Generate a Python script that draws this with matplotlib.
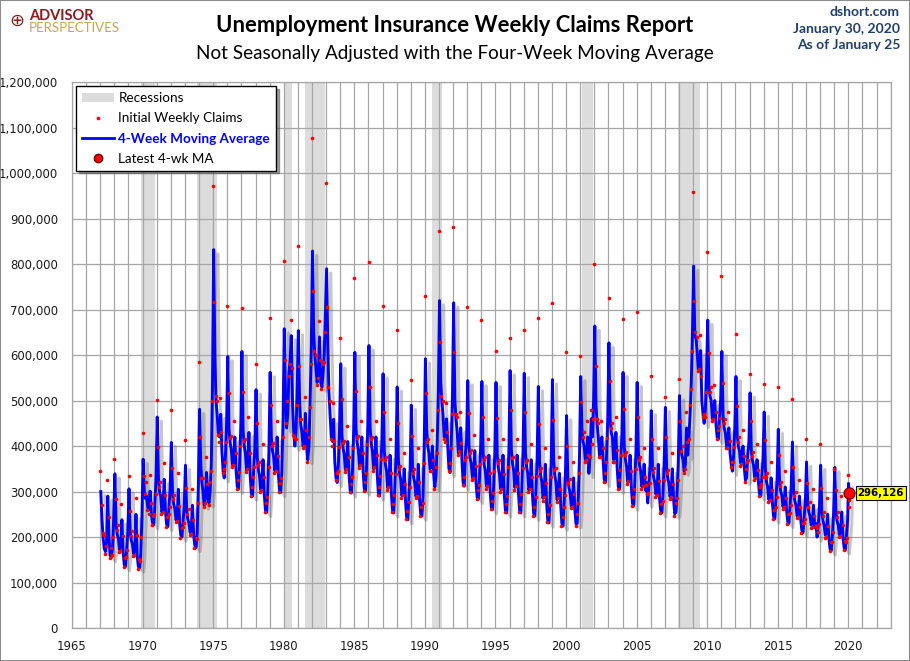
import matplotlib
matplotlib.use("Agg")
import matplotlib.pyplot as plt
import matplotlib.patheffects as pe
from matplotlib.lines import Line2D
from matplotlib.patches import Patch, Rectangle
import numpy as np
import pandas as pd

# 4-week moving average, read at mid-month (thousands), one row per year Jan..Dec
ma_1960s = [
    [300, 240, 200, 175, 168, 190, 290, 200, 160, 155, 175, 240],  # 1967
    [339, 227, 206, 196, 172, 180, 238, 166, 139, 135, 172, 212],
    [306, 210, 193, 184, 163, 170, 250, 158, 135, 132, 163, 240],
]
ma_1970s = [
    [371, 300, 285, 290, 265, 260, 301, 250, 232, 227, 265, 335],  # 1970
    [464, 330, 300, 290, 255, 265, 327, 259, 228, 223, 266, 306],
    [408, 294, 273, 262, 237, 246, 305, 231, 204, 200, 237, 271],
    [358, 258, 240, 231, 210, 217, 270, 204, 181, 177, 210, 314],
    [481, 360, 320, 300, 270, 285, 342, 290, 275, 300, 360, 540],
    [832, 600, 500, 470, 430, 420, 470, 390, 345, 330, 380, 450],
    [597, 436, 407, 393, 358, 369, 420, 349, 311, 305, 358, 441],
    [608, 433, 401, 385, 347, 360, 430, 338, 296, 290, 347, 395],
    [524, 376, 349, 335, 303, 313, 370, 295, 259, 254, 303, 393],
    [562, 417, 390, 377, 346, 356, 420, 338, 303, 298, 345, 460],
]
ma_1980s = [
    [658, 520, 440, 470, 560, 590, 643, 500, 430, 400, 430, 530],  # 1980
    [654, 500, 450, 430, 400, 410, 472, 400, 370, 400, 500, 620],
    [829, 650, 600, 570, 540, 560, 640, 540, 530, 560, 600, 690],
    [790, 620, 520, 470, 420, 410, 459, 365, 330, 320, 360, 437],
    [581, 425, 396, 382, 348, 359, 410, 340, 303, 297, 348, 436],
    [606, 438, 408, 392, 356, 368, 420, 347, 307, 301, 356, 445],
    [621, 439, 406, 389, 350, 363, 420, 340, 297, 290, 350, 411],
    [559, 391, 360, 345, 308, 320, 380, 299, 259, 253, 308, 378],
    [530, 369, 340, 326, 291, 302, 350, 282, 244, 238, 291, 351],
    [490, 356, 331, 319, 290, 300, 360, 283, 251, 246, 290, 402],
]
ma_1990s = [
    [592, 440, 400, 385, 350, 355, 400, 340, 310, 335, 400, 520],  # 1990
    [720, 540, 500, 470, 420, 420, 460, 400, 350, 342, 410, 510],
    [715, 500, 460, 433, 385, 400, 440, 372, 320, 312, 385, 416],
    [544, 400, 374, 361, 330, 340, 390, 322, 288, 283, 330, 400],
    [542, 387, 359, 345, 311, 322, 380, 302, 266, 260, 311, 386],
    [540, 382, 353, 339, 305, 316, 380, 296, 259, 253, 305, 394],
    [566, 394, 363, 347, 309, 322, 380, 300, 259, 253, 309, 391],
    [560, 387, 356, 340, 303, 315, 370, 293, 252, 246, 303, 374],
    [531, 366, 336, 321, 285, 297, 360, 276, 237, 231, 285, 373],
    [546, 369, 337, 321, 282, 295, 340, 272, 230, 224, 282, 333],
]
ma_2000s = [
    [467, 333, 309, 297, 268, 277, 330, 260, 229, 230, 290, 380],  # 2000
    [553, 440, 410, 400, 370, 380, 420, 340, 380, 460, 420, 500],
    [664, 490, 450, 420, 380, 385, 420, 372, 327, 320, 380, 458],
    [627, 460, 430, 420, 370, 375, 430, 353, 311, 305, 363, 421],
    [562, 400, 371, 356, 321, 333, 380, 312, 274, 268, 321, 390],
    [540, 387, 359, 345, 311, 322, 360, 303, 320, 275, 311, 359],
    [478, 354, 332, 321, 294, 303, 360, 287, 258, 253, 294, 365],
    [485, 354, 330, 318, 289, 299, 350, 282, 251, 255, 300, 365],
    [511, 400, 380, 370, 345, 360, 440, 380, 420, 470, 540, 650],
    [796, 640, 640, 610, 570, 580, 610, 500, 470, 450, 480, 560],
]
ma_2010s = [
    [677, 530, 510, 500, 460, 470, 500, 450, 420, 415, 460, 502],  # 2010
    [608, 470, 440, 430, 400, 405, 440, 385, 360, 345, 380, 439],
    [553, 425, 400, 390, 362, 371, 400, 355, 325, 330, 380, 410],
    [517, 392, 369, 358, 331, 340, 370, 324, 295, 290, 331, 373],
    [475, 350, 322, 310, 282, 292, 330, 275, 245, 240, 282, 329],
    [437, 323, 302, 292, 267, 276, 310, 261, 234, 230, 267, 311],
    [409, 300, 280, 270, 246, 254, 290, 240, 214, 210, 246, 280],
    [365, 272, 255, 246, 226, 232, 270, 221, 230, 200, 226, 268],
    [358, 255, 236, 226, 204, 211, 250, 198, 174, 170, 204, 252],
    [353, 253, 235, 226, 205, 212, 255, 199, 176, 172, 205, 238],
]

# initial claims, first week of each month (thousands)
claims_1960s = [
    [345, 270, 210, 205, 163, 180, 325, 245, 155, 175, 160, 200],
    [372, 283, 216, 226, 167, 170, 273, 202, 134, 155, 157, 172],
    [334, 258, 203, 214, 158, 160, 285, 204, 130, 152, 148, 200],
]
claims_1970s = [
    [428, 335, 295, 320, 260, 250, 336, 275, 227, 247, 250, 295],
    [502, 397, 310, 320, 250, 255, 362, 293, 223, 243, 251, 266],
    [479, 351, 283, 292, 232, 236, 340, 268, 199, 220, 222, 231],
    [413, 308, 250, 261, 205, 207, 305, 237, 176, 197, 195, 274],
    [586, 420, 330, 330, 265, 275, 377, 316, 270, 320, 345, 500],
    [971, 716, 510, 500, 425, 410, 505, 430, 340, 350, 365, 410],
    [709, 517, 417, 423, 353, 359, 455, 385, 306, 325, 343, 401],
    [704, 520, 411, 415, 342, 350, 465, 384, 291, 310, 332, 355],
    [581, 450, 359, 365, 298, 303, 405, 333, 254, 274, 288, 353],
    [682, 490, 400, 407, 341, 346, 455, 379, 298, 318, 330, 420],
]
claims_1980s = [
    [806, 589, 450, 500, 555, 580, 678, 572, 425, 420, 415, 490],
    [841, 577, 460, 460, 395, 400, 507, 436, 365, 420, 485, 580],
    [1077, 740, 610, 600, 535, 550, 675, 590, 525, 580, 585, 650],
    [978, 705, 530, 500, 415, 400, 494, 412, 325, 340, 345, 397],
    [637, 503, 406, 412, 343, 349, 445, 375, 298, 317, 333, 396],
    [770, 522, 418, 422, 351, 358, 455, 384, 302, 321, 341, 405],
    [805, 530, 416, 419, 345, 353, 455, 380, 292, 310, 335, 371],
    [709, 475, 370, 375, 303, 310, 415, 340, 254, 273, 293, 338],
    [656, 450, 350, 356, 286, 292, 385, 316, 239, 258, 276, 311],
    [545, 423, 341, 349, 285, 290, 395, 322, 246, 266, 275, 362],
]
claims_1990s = [
    [731, 516, 410, 415, 345, 345, 435, 370, 305, 355, 385, 480],
    [874, 630, 510, 500, 415, 410, 495, 430, 345, 362, 395, 470],
    [882, 608, 470, 463, 380, 390, 475, 406, 315, 332, 370, 376],
    [706, 472, 384, 391, 325, 330, 425, 356, 283, 303, 315, 360],
    [678, 465, 369, 375, 306, 312, 415, 341, 261, 280, 296, 346],
    [610, 461, 363, 369, 300, 306, 415, 338, 254, 273, 290, 354],
    [637, 480, 373, 377, 304, 312, 415, 340, 254, 273, 294, 351],
    [656, 474, 366, 370, 298, 305, 405, 332, 247, 266, 288, 334],
    [682, 449, 346, 351, 280, 287, 395, 318, 232, 251, 270, 333],
    [715, 458, 347, 351, 277, 285, 375, 306, 225, 244, 267, 293],
]
claims_2000s = [
    [606, 400, 319, 327, 263, 267, 365, 295, 224, 250, 275, 340],
    [599, 497, 420, 430, 365, 370, 455, 380, 375, 480, 405, 460],
    [801, 577, 460, 450, 375, 375, 455, 396, 322, 340, 365, 418],
    [726, 544, 440, 450, 365, 365, 465, 392, 306, 325, 348, 381],
    [680, 481, 381, 386, 316, 323, 415, 346, 269, 288, 306, 350],
    [695, 464, 369, 375, 306, 312, 395, 332, 315, 295, 296, 319],
    [555, 416, 342, 351, 289, 293, 395, 324, 253, 273, 279, 325],
    [507, 420, 340, 348, 284, 289, 385, 316, 246, 275, 285, 325],
    [548, 456, 390, 400, 340, 350, 475, 410, 415, 490, 525, 610],
    [958, 718, 650, 640, 565, 570, 645, 555, 465, 470, 465, 520],
]
claims_2010s = [
    [827, 604, 520, 530, 455, 460, 535, 475, 415, 435, 445, 462],
    [774, 539, 450, 460, 395, 395, 475, 412, 355, 365, 365, 399],
    [647, 489, 410, 420, 357, 361, 435, 378, 320, 350, 365, 370],
    [559, 455, 379, 388, 326, 330, 405, 347, 290, 310, 316, 333],
    [537, 413, 332, 340, 277, 282, 365, 303, 240, 260, 267, 289],
    [529, 380, 312, 322, 262, 266, 345, 286, 229, 250, 252, 271],
    [503, 355, 290, 300, 241, 244, 325, 265, 209, 230, 231, 240],
    [415, 319, 265, 276, 221, 222, 305, 246, 225, 220, 211, 228],
    [404, 307, 246, 256, 199, 201, 285, 224, 169, 190, 189, 212],
    [350, 303, 245, 256, 200, 202, 290, 227, 171, 192, 190, 198],
]

# January 2020 weekly readings
weeks_2020 = ["2020-01-04", "2020-01-11", "2020-01-18", "2020-01-25"]
ma_2020 = [318, 312, 300, 296.126]
claims_2020 = [336, 302, 265, 281]

latest_ma = 296126

recessions = [
    ("1969-12-01", "1970-11-30"),
    ("1973-11-01", "1975-03-31"),
    ("1980-01-01", "1980-07-31"),
    ("1981-07-01", "1982-11-30"),
    ("1990-07-01", "1991-03-31"),
    ("2001-03-01", "2001-11-30"),
    ("2007-12-01", "2009-06-30"),
]


def to_year(dates):
    d = pd.DatetimeIndex(pd.to_datetime(dates))
    return np.asarray(d.year + (d.dayofyear - 1) / 365.25)


ma_rows = ma_1960s + ma_1970s + ma_1980s + ma_1990s + ma_2000s + ma_2010s
claim_rows = claims_1960s + claims_1970s + claims_1980s + claims_1990s + claims_2000s + claims_2010s

month_starts = pd.date_range("1967-01-01", "2019-12-01", freq="MS")
ma_x = np.concatenate([to_year(month_starts + pd.Timedelta(days=14)), to_year(weeks_2020)])
ma_y = np.concatenate([np.concatenate(ma_rows), ma_2020]) * 1000
cl_x = np.concatenate([to_year(month_starts + pd.Timedelta(days=3)), to_year(weeks_2020)])
cl_y = np.concatenate([np.concatenate(claim_rows), claims_2020]) * 1000

fig = plt.figure(figsize=(9.1, 6.61), dpi=100)
W, H = 910, 661
ax = fig.add_axes([72 / W, 1 - 628 / H, (890.7 - 72) / W, (628 - 82.3) / H])

for start, end in recessions:
    s, e = to_year([start, end])
    ax.axvspan(s, e, color="#dcdcdc", lw=0, zorder=0.2)

ax.plot(ma_x, ma_y, color="#0000ff", lw=2.1, zorder=3,
        path_effects=[pe.SimpleLineShadow(offset=(3, -3), shadow_color="#606060", alpha=0.35),
                      pe.Normal()])
ax.plot(cl_x, cl_y, ls="none", marker="o", ms=2.6, color="#ff0000", mew=0, zorder=4)

lx = ma_x[-1]
ax.plot([lx], [latest_ma], ls="none", marker="o", ms=8, mfc="#ff0000", mec="#700000", mew=0.8, zorder=5)
ax.annotate(f"{latest_ma:,}", xy=(lx, latest_ma), xytext=(6, 0), textcoords="offset points",
            va="center", ha="left", fontsize=7.4, fontweight="bold", family="DejaVu Sans",
            bbox=dict(boxstyle="square,pad=0.18", fc="#ffff00", ec="black", lw=0.8), zorder=6,
            annotation_clip=False)

ax.set_xlim(1965, 2023)
ax.set_ylim(0, 1_200_000)
ax.set_xticks(range(1965, 2021, 5))
ax.set_xticks(range(1965, 2024), minor=True)
ax.set_yticks(range(0, 1_200_001, 100_000))
ax.yaxis.set_major_formatter(matplotlib.ticker.FuncFormatter(lambda v, _: f"{v:,.0f}"))
ax.grid(True, which="both", axis="x", color="#a6a6a6", lw=0.9)
ax.grid(True, which="major", axis="y", color="#a6a6a6", lw=0.9)
ax.set_axisbelow(True)
ax.tick_params(which="both", length=0, labelsize=8.4, colors="#1a1a1a")
ax.tick_params(axis="x", pad=9)
ax.tick_params(axis="y", pad=10)
for sp in ax.spines.values():
    sp.set_color("#a6a6a6")
    sp.set_linewidth(0.9)

handles = [
    Patch(facecolor="#dcdcdc", edgecolor="none", label="Recessions"),
    Line2D([], [], ls="none", marker="o", ms=2.6, mew=0, color="#ff0000", label="Initial Weekly Claims"),
    Line2D([], [], color="#0000ff", lw=2, label="4-Week Moving Average"),
    Line2D([], [], ls="none", marker="o", ms=6, mfc="#ff0000", mec="#700000", label="Latest 4-wk MA"),
]
leg = ax.legend(handles=handles, loc="upper left", bbox_to_anchor=(0.0, 1.0), borderaxespad=0.3,
                frameon=True, fancybox=False, shadow=True, edgecolor="black",
                prop={"family": "Lato", "size": 9.7}, handlelength=2.4, labelspacing=0.6,
                borderpad=0.45, handletextpad=0.3)
leg.get_frame().set_linewidth(1.0)
leg.get_texts()[2].set_color("#0000ff")
leg.get_texts()[2].set_fontweight("bold")
leg.set_zorder(10)

fig.text(0.5, 1 - 25 / H, "Unemployment Insurance Weekly Claims Report", ha="center", va="center",
         fontsize=15.8, fontweight="bold", family="Lato")
fig.text(0.5, 1 - 53 / H, "Not Seasonally Adjusted with the Four-Week Moving Average", ha="center",
         va="center", fontsize=13.6, family="Lato")

navy = "#1f3f6f"
for txt, yy in [("dshort.com", 12), ("January 30, 2020", 29), ("As of January 25", 45)]:
    fig.text(900 / W, 1 - yy / H, txt, ha="right", va="center", fontsize=10, fontweight="bold",
             family="Lato", color=navy)

fig.text(29 / W, 1 - 16 / H, "ADVISOR", ha="left", va="center", fontsize=10.5, fontweight="bold",
         family="Lato", color="#8a1c1c")
fig.text(29 / W, 1 - 28 / H, "PERSPECTIVES", ha="left", va="center", fontsize=9.5,
         family="Lato", color="#c9a35a")
fig.text(17 / W, 1 - 21 / H, "\u2295", ha="center", va="center", fontsize=13, color="#8a1c1c",
         family="DejaVu Sans")

fig.add_artist(Rectangle((0, 0), 1, 1, transform=fig.transFigure, fill=False,
                         ec="#8c8c8c", lw=1.5))

fig.savefig("out.png", dpi=100)
